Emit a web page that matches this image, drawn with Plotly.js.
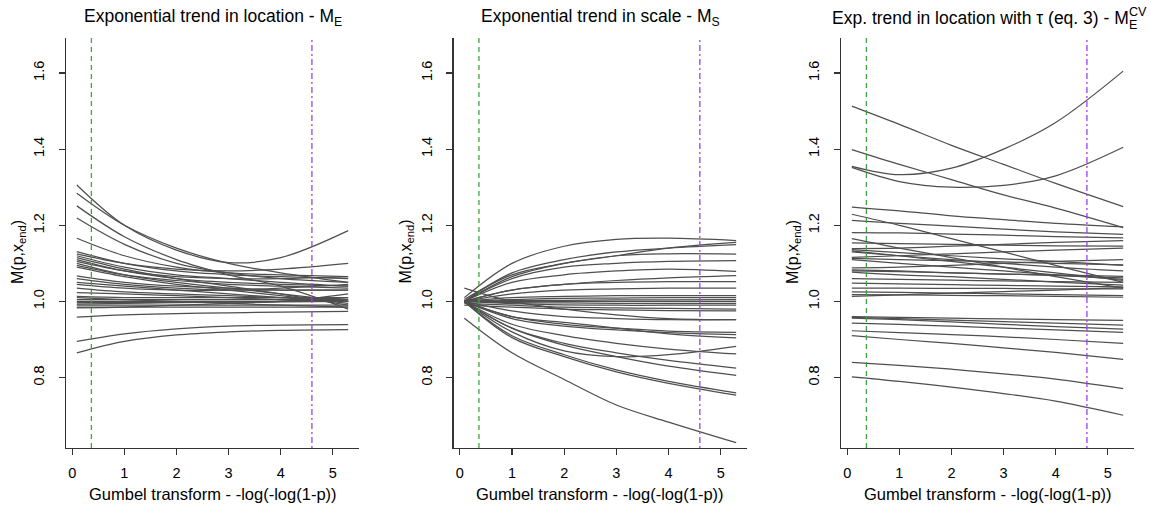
<!DOCTYPE html>
<html><head><meta charset="utf-8">
<script src="https://cdn.plot.ly/plotly-3.0.1.min.js"></script>
<style>html,body{margin:0;padding:0;background:#fff}#chart{width:1151px;height:507px}</style>
</head><body><div id="chart"></div>
<script>
// Gumbel-transformed positions where each curve is read
const xKnots = [0.087, 1, 2, 3, 4, 5.296];

// Panel 1: exponential trend in location (M_E)
const curvesLocation = [
  [1.306, 1.200, 1.135, 1.102, 1.115, 1.186],
  [1.284, 1.200, 1.140, 1.100, 1.075, 1.050],
  [1.251, 1.170, 1.110, 1.070, 1.040, 0.980],
  [1.219, 1.150, 1.100, 1.075, 1.060, 1.050],
  [1.166, 1.120, 1.090, 1.075, 1.070, 1.065],
  [1.131, 1.100, 1.080, 1.070, 1.065, 1.060],
  [1.125, 1.100, 1.085, 1.080, 1.085, 1.100],
  [1.120, 1.090, 1.070, 1.060, 1.050, 1.040],
  [1.115, 1.085, 1.060, 1.040, 1.020, 0.990],
  [1.110, 1.080, 1.060, 1.050, 1.045, 1.040],
  [1.105, 1.080, 1.065, 1.060, 1.060, 1.065],
  [1.100, 1.070, 1.050, 1.035, 1.020, 1.000],
  [1.095, 1.070, 1.055, 1.045, 1.040, 1.035],
  [1.090, 1.065, 1.045, 1.030, 1.015, 0.995],
  [1.067, 1.050, 1.040, 1.035, 1.030, 1.030],
  [1.060, 1.045, 1.035, 1.030, 1.030, 1.030],
  [1.050, 1.040, 1.030, 1.020, 1.010, 1.000],
  [1.045, 1.035, 1.030, 1.030, 1.035, 1.045],
  [1.035, 1.025, 1.020, 1.015, 1.010, 1.005],
  [1.023, 1.020, 1.015, 1.010, 1.005, 1.000],
  [1.013, 1.010, 1.010, 1.010, 1.010, 1.010],
  [1.010, 1.005, 1.000, 0.995, 0.990, 0.985],
  [1.005, 1.005, 1.005, 1.005, 1.005, 1.005],
  [1.000, 1.000, 1.000, 1.000, 1.000, 1.000],
  [0.997, 0.997, 0.998, 0.998, 0.999, 1.000],
  [0.993, 0.995, 0.997, 0.998, 1.000, 1.020],
  [0.990, 0.990, 0.990, 0.990, 0.990, 0.990],
  [0.985, 0.985, 0.985, 0.985, 0.985, 0.985],
  [0.983, 0.985, 0.990, 0.995, 1.000, 1.010],
  [0.959, 0.965, 0.968, 0.970, 0.972, 0.974],
  [0.895, 0.915, 0.928, 0.935, 0.938, 0.939],
  [0.865, 0.895, 0.912, 0.920, 0.924, 0.926]
];

// Panel 2: exponential trend in scale (M_S)
const curvesScale = [
  [1.010, 1.100, 1.145, 1.163, 1.166, 1.160],
  [1.005, 1.070, 1.100, 1.120, 1.140, 1.155],
  [1.000, 1.075, 1.110, 1.130, 1.140, 1.149],
  [1.000, 1.065, 1.100, 1.120, 1.125, 1.124],
  [1.000, 1.060, 1.090, 1.100, 1.105, 1.107],
  [1.000, 1.050, 1.070, 1.080, 1.085, 1.079],
  [1.000, 1.030, 1.045, 1.055, 1.062, 1.068],
  [1.000, 1.030, 1.045, 1.050, 1.052, 1.052],
  [1.000, 1.020, 1.030, 1.033, 1.035, 1.035],
  [1.000, 1.010, 1.013, 1.015, 1.015, 1.015],
  [1.000, 1.005, 1.008, 1.009, 1.010, 1.010],
  [1.000, 1.002, 1.003, 1.004, 1.004, 1.005],
  [1.000, 1.000, 1.000, 1.000, 1.000, 1.000],
  [1.000, 0.997, 0.996, 0.995, 0.995, 0.995],
  [1.000, 0.994, 0.991, 0.990, 0.990, 0.990],
  [0.995, 0.990, 0.985, 0.983, 0.982, 0.980],
  [0.990, 0.985, 0.980, 0.978, 0.976, 0.975],
  [1.035, 1.000, 0.980, 0.965, 0.955, 0.952],
  [1.000, 0.975, 0.960, 0.955, 0.952, 0.952],
  [1.000, 0.960, 0.940, 0.930, 0.922, 0.919],
  [1.000, 0.955, 0.935, 0.925, 0.918, 0.913],
  [1.000, 0.960, 0.945, 0.930, 0.915, 0.904],
  [1.000, 0.920, 0.870, 0.855, 0.860, 0.882],
  [1.000, 0.940, 0.910, 0.890, 0.875, 0.862],
  [1.000, 0.930, 0.890, 0.865, 0.845, 0.825],
  [1.000, 0.930, 0.885, 0.855, 0.830, 0.806],
  [1.000, 0.910, 0.860, 0.820, 0.790, 0.760],
  [1.000, 0.905, 0.855, 0.815, 0.785, 0.754],
  [0.956, 0.865, 0.795, 0.728, 0.683, 0.629]
];

// Panel 3: exponential trend in location with tau (M_E^CV)
const curvesLocationCV = [
  [1.513, 1.465, 1.410, 1.360, 1.310, 1.249],
  [1.355, 1.333, 1.350, 1.400, 1.470, 1.605],
  [1.352, 1.315, 1.300, 1.305, 1.330, 1.405],
  [1.399, 1.360, 1.320, 1.280, 1.245, 1.194],
  [1.248, 1.238, 1.225, 1.215, 1.205, 1.196],
  [1.229, 1.200, 1.165, 1.130, 1.095, 1.050],
  [1.213, 1.205, 1.198, 1.190, 1.183, 1.176],
  [1.181, 1.180, 1.177, 1.174, 1.170, 1.167],
  [1.165, 1.140, 1.115, 1.090, 1.065, 1.035],
  [1.154, 1.152, 1.150, 1.148, 1.146, 1.145],
  [1.139, 1.140, 1.145, 1.150, 1.155, 1.160],
  [1.136, 1.128, 1.120, 1.112, 1.105, 1.095],
  [1.133, 1.120, 1.105, 1.090, 1.075, 1.055],
  [1.130, 1.120, 1.110, 1.100, 1.090, 1.080],
  [1.116, 1.120, 1.125, 1.130, 1.135, 1.140],
  [1.113, 1.110, 1.107, 1.104, 1.100, 1.096],
  [1.110, 1.100, 1.090, 1.080, 1.070, 1.058],
  [1.088, 1.090, 1.095, 1.100, 1.105, 1.110],
  [1.083, 1.080, 1.075, 1.072, 1.068, 1.062],
  [1.080, 1.078, 1.075, 1.072, 1.070, 1.066],
  [1.077, 1.070, 1.065, 1.058, 1.051, 1.043],
  [1.060, 1.058, 1.056, 1.054, 1.052, 1.050],
  [1.048, 1.046, 1.044, 1.042, 1.040, 1.038],
  [1.035, 1.035, 1.034, 1.034, 1.033, 1.033],
  [1.025, 1.024, 1.022, 1.020, 1.018, 1.015],
  [1.018, 1.017, 1.016, 1.015, 1.013, 1.011],
  [1.013, 1.017, 1.022, 1.026, 1.030, 1.036],
  [0.960, 0.958, 0.956, 0.954, 0.952, 0.950],
  [0.958, 0.955, 0.951, 0.947, 0.943, 0.938],
  [0.956, 0.952, 0.946, 0.940, 0.934, 0.927],
  [0.943, 0.940, 0.935, 0.930, 0.925, 0.919],
  [0.923, 0.918, 0.913, 0.907, 0.900, 0.890],
  [0.910, 0.900, 0.890, 0.878, 0.866, 0.848],
  [0.840, 0.832, 0.822, 0.810, 0.796, 0.771],
  [0.802, 0.790, 0.775, 0.758, 0.738, 0.701]
];

// Reference lines: p = 0.5 and p = 0.01 on the Gumbel scale
const refLinesX = [0.3665, 4.6001];
const xTickVals = [0, 1, 2, 3, 4, 5];
const xTickText = ['0', '1', '2', '3', '4', '5'];
const yTickVals = [0.8, 1.0, 1.2, 1.4, 1.6];
const yTickText = ['0.8', '1.0', '1.2', '1.4', '1.6'];
const xAxisTitle = 'Gumbel transform - -log(-log(1-p))';
const yAxisTitle = 'M(p,x<sub>end</sub>)';

// ---------- layout helpers ----------
const W = 1151, H = 507;
const FONT = 'Liberation Sans, Arial, Helvetica, sans-serif';
const panelsPx = [[66, 359], [453.5, 747], [841, 1134]];
const plotTop = 38, plotBottom = 448;
const xRange = [-0.121, 5.504];
const yRange = [0.615, 1.692];
const datasets = [curvesLocation, curvesScale, curvesLocationCV];

const traces = [];
datasets.forEach((set, p) => {
  const ax = p === 0 ? '' : String(p + 1);
  set.forEach(vals => {
    traces.push({
      type: 'scatter', mode: 'lines', x: xKnots, y: vals,
      xaxis: 'x' + ax, yaxis: 'y' + ax,
      line: {color: '#4f4f4f', width: 1.25, shape: 'spline', smoothing: 1},
      hoverinfo: 'skip', showlegend: false
    });
  });
});

const layout = {
  width: W, height: H,
  margin: {l: 0, r: 0, t: 0, b: 0},
  paper_bgcolor: '#fff', plot_bgcolor: '#fff',
  font: {family: FONT, color: '#000'},
  showlegend: false,
  shapes: [], annotations: []
};

const tFont = 17.5;
panelsPx.forEach((px, p) => {
  const ax = p === 0 ? '' : String(p + 1);
  layout['xaxis' + ax] = {
    domain: [px[0] / W, px[1] / W], range: xRange, anchor: 'y' + ax,
    showgrid: false, zeroline: false, showline: true, linecolor: '#333', linewidth: 1.2,
    ticks: 'outside', ticklen: 6, tickwidth: 1.2, tickcolor: '#333',
    tickvals: xTickVals, ticktext: xTickText,
    tickfont: {family: FONT, size: 14.5, color: '#000'}, ticklabelstandoff: 5,
    fixedrange: true
  };
  layout['yaxis' + ax] = {
    domain: [1 - plotBottom / H, 1 - plotTop / H], range: yRange, anchor: 'x' + ax,
    showgrid: false, zeroline: false, showline: true, linecolor: '#333', linewidth: 1.2,
    ticks: 'outside', ticklen: 6, tickwidth: 1.2, tickcolor: '#333',
    tickvals: yTickVals, ticktext: yTickText, tickangle: -90,
    tickfont: {family: FONT, size: 14.5, color: '#000'}, ticklabelstandoff: 9,
    fixedrange: true
  };
  // vertical reference lines
  layout.shapes.push({
    type: 'line', xref: 'x' + ax, yref: 'y' + ax + ' domain',
    x0: refLinesX[0], x1: refLinesX[0], y0: 0, y1: 1,
    line: {color: '#3ea33e', width: 1.3, dash: '5px,4px'}
  });
  layout.shapes.push({
    type: 'line', xref: 'x' + ax, yref: 'y' + ax + ' domain',
    x0: refLinesX[1], x1: refLinesX[1], y0: 0, y1: 1,
    line: {color: '#9b3ff5', width: 1.3, dash: '2px,3px,6px,3px'}
  });
  const cx = (px[0] + px[1]) / 2;
  // x title
  layout.annotations.push({
    text: xAxisTitle, xref: 'paper', yref: 'paper', x: cx / W, y: 1 - 494 / H,
    xanchor: 'center', yanchor: 'middle', showarrow: false,
    font: {family: FONT, size: 16.5, color: '#000'}
  });
  // y title
  layout.annotations.push({
    text: yAxisTitle, xref: 'paper', yref: 'paper', x: (px[0] - 48) / W, y: 1 - 252 / H,
    xanchor: 'center', yanchor: 'middle', showarrow: false, textangle: -90,
    font: {family: FONT, size: 16, color: '#000'}
  });
});

// panel titles
const titleMain = ['Exponential trend in location - M<sub>E</sub>',
                   'Exponential trend in scale - M<sub>S</sub>'];
[0, 1].forEach(p => {
  const px = panelsPx[p];
  layout.annotations.push({
    text: titleMain[p], xref: 'paper', yref: 'paper', x: (px[0] + px[1]) / 2 / W, y: 1 - 18 / H,
    xanchor: 'center', yanchor: 'middle', showarrow: false,
    font: {family: FONT, size: tFont, color: '#000'}
  });
});
// third title with stacked sub/superscript
(function () {
  const base = 'Exp. trend in location with \u03c4 (eq. 3) - M';
  const c = document.createElement('canvas').getContext('2d');
  c.font = tFont + 'px "Liberation Sans"';
  const wBase = c.measureText(base).width;
  c.font = (tFont * 0.72) + 'px "Liberation Sans"';
  const wSup = c.measureText('CV').width;
  const total = wBase + wSup;
  const px = panelsPx[2];
  const cx = (px[0] + px[1]) / 2;
  const left = cx - total / 2;
  layout.annotations.push({
    text: base, xref: 'paper', yref: 'paper', x: left / W, y: 1 - 18 / H,
    xanchor: 'left', yanchor: 'middle', showarrow: false,
    font: {family: FONT, size: tFont, color: '#000'}
  });
  layout.annotations.push({
    text: 'CV', xref: 'paper', yref: 'paper', x: (left + wBase) / W, y: 1 - 12 / H,
    xanchor: 'left', yanchor: 'middle', showarrow: false,
    font: {family: FONT, size: tFont * 0.72, color: '#000'}
  });
  layout.annotations.push({
    text: 'E', xref: 'paper', yref: 'paper', x: (left + wBase) / W, y: 1 - 25 / H,
    xanchor: 'left', yanchor: 'middle', showarrow: false,
    font: {family: FONT, size: tFont * 0.72, color: '#000'}
  });
})();

Plotly.newPlot('chart', traces, layout, {staticPlot: true, displayModeBar: false});
</script>
</body></html>
